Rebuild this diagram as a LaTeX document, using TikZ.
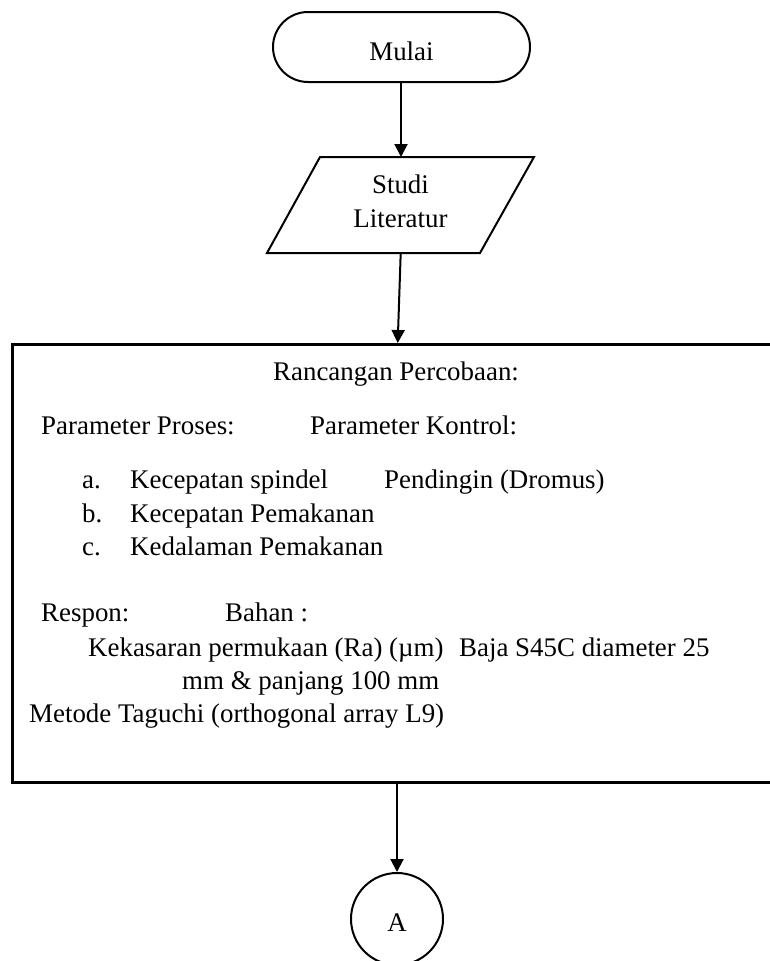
\documentclass[tikz,border=0pt]{standalone}
\usepackage{fontspec}
\setmainfont{Liberation Serif}
\usetikzlibrary{arrows.meta}
\begin{document}
\begin{tikzpicture}[x=1pt,y=-1pt,
  every node/.style={font=\fontsize{26.9}{33}\selectfont},
  txt/.style={anchor=base west,inner sep=0pt},
  ctxt/.style={anchor=base,inner sep=0pt},
  flowline/.style={line width=2pt,-{Triangle[length=13pt,width=13pt]}},
  shapeline/.style={draw,line width=2pt}]
\useasboundingbox (0,0) rectangle (769,961);
% terminal
\node[shapeline,rounded corners=35pt,minimum width=257pt,minimum height=70pt,inner sep=0pt] (mulai) at (401.5,47) {};
\node[ctxt] (mulaitxt) at (401.5,60) {Mulai};
% parallelogram
\draw[line width=2pt,line join=miter] (320,157) -- (534,157) -- (480,253) -- (267,253) -- cycle;
\node[ctxt] (studi) at (400.5,193) {Studi};
\node[ctxt] (lit) at (400.5,227) {Literatur};
\coordinate (littop) at (401,157);
\coordinate (litbot) at (400.7,253);
% big box
\node[draw,line width=3pt,anchor=north west,minimum width=790pt,minimum height=438pt,inner sep=0pt] (box) at (10.5,343) {};
\coordinate (boxtop) at (397.7,343);
\coordinate (boxbot) at (397,781);
% connector A
\node[shapeline,circle,minimum size=92pt,inner sep=0pt] (A) at (397,919) {};
\node[ctxt] (Atxt) at (397,931) {A};
% arrows
\draw[flowline] (mulai.south -| littop) -- (littop);
\draw[flowline] (litbot) -- (boxtop);
\draw[flowline] (boxbot) -- (A.north);
% box texts
\node[txt] (t1) at (273,380) {Rancangan Percobaan:};
\node[txt] (t2) at (41,434) {Parameter Proses:};
\node[txt] (t3) at (310,434) {Parameter Kontrol:};
\node[txt] (t4a) at (82,488) {a.};
\node[txt] (t4) at (130,488) {Kecepatan spindel};
\node[txt] (t5) at (384,488) {Pendingin (Dromus)};
\node[txt] (t6a) at (82,522) {b.};
\node[txt] (t6) at (130,522) {Kecepatan Pemakanan};
\node[txt] (t7a) at (82,555) {c.};
\node[txt] (t7) at (130,555) {Kedalaman Pemakanan};
\node[txt] (t8) at (41,621) {Respon:};
\node[txt] (t9) at (225,621) {Bahan :};
\node[txt] (t10) at (88,656) {Kekasaran permukaan (Ra) (µm)};
\node[txt] (t11) at (459,656) {Baja S45C diameter 25};
\node[txt] (t12) at (182,689) {mm \& panjang 100 mm};
\node[txt] (t13) at (29,722) {Metode Taguchi (orthogonal array L9)};
\end{tikzpicture}
\end{document}
